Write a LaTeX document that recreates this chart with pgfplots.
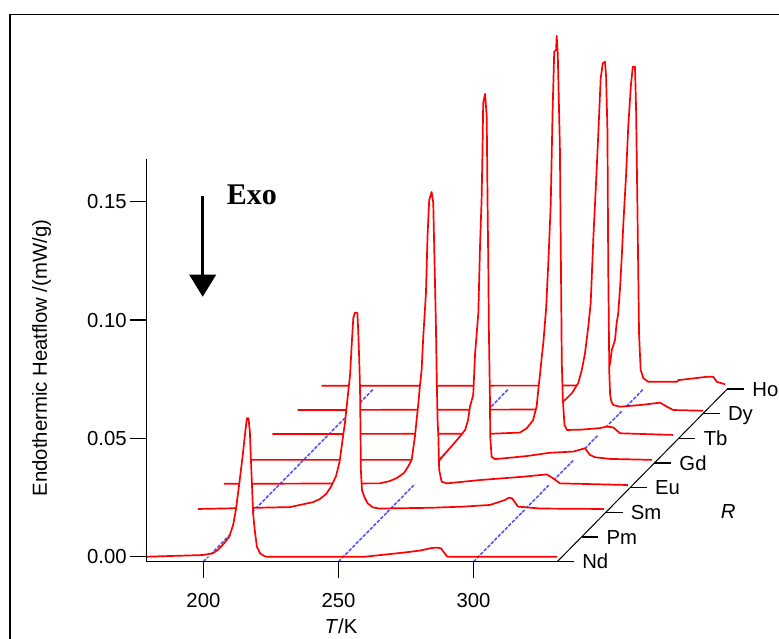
\documentclass[border=0pt]{standalone}
\usepackage{pgfplots}
\pgfplotsset{compat=1.18}
\usepackage{pgfplotstable}
\usepackage{fontspec}
\setmainfont{Liberation Sans}
\newfontfamily\exofont{Liberation Serif}
\definecolor{gridblue}{RGB}{85,85,250}

% own coordinates of each curve: T / K, heat flow / (mW/g)
\pgfplotstableread{
T v
179.0 0
199.7 0.0007
203.4 0.0014
205.3 0.0028
207.7 0.0057
209.6 0.0085
211.0 0.0134
212.0 0.0197
213.3 0.0310
214.5 0.0423
215.5 0.0528
216.1 0.0585
216.7 0.0585
217.2 0.0528
217.6 0.0409
218.0 0.0296
218.4 0.0183
219.0 0.0113
219.8 0.0042
221.0 0.0014
222.5 0.0003
223.5 0
259.8 0
267.2 0.0009
274.6 0.0018
280.2 0.0026
284.6 0.0037
286.9 0.0038
288.0 0.0035
290.2 0.0001
291.0 0
331.0 0
}\Nd

\pgfplotstableread{
T v
180.0 -0.0007
214.0 0.0001
217.7 0.0010
222.6 0.0022
225.1 0.0035
227.4 0.0056
229.2 0.0086
231.1 0.0132
232.4 0.0191
233.5 0.0284
234.4 0.0356
235.3 0.0453
236.3 0.0559
236.9 0.0686
237.5 0.0800
238.1 0.0822
239.0 0.0822
239.3 0.0750
239.7 0.0623
240.0 0.0496
240.2 0.0284
240.3 0.0158
240.7 0.0073
241.6 0.0044
242.8 0.0017
244.7 0.0000
247.0 -0.0005
265.9 -0.0002
278.1 0.0003
288.1 0.0010
293.7 0.0031
295.1 0.0041
296.3 0.0038
298.5 0.0003
306.6 -0.0005
330.3 -0.0007
}\Sm

\pgfplotstableread{
T v
180.6 -0.0005
238.4 -0.0003
242.1 0.0007
244.7 0.0020
247.3 0.0041
248.7 0.0066
250.1 0.0096
251.3 0.0193
252.6 0.0337
253.2 0.0413
253.8 0.0476
254.4 0.0616
255.4 0.0801
256.0 0.1047
256.6 0.1194
257.5 0.1228
258.1 0.1182
258.7 0.0869
259.1 0.0658
259.4 0.0434
259.7 0.0265
260.0 0.0193
260.3 0.0054
261.2 0.0004
263.1 -0.0003
275.4 0.0011
291.3 0.0025
300.1 0.0035
302.4 0.0019
305.0 -0.0003
330.2 -0.0010
}\Eu

\pgfplotstableread{
T v
179.7 -0.0008
251.6 -0.0008
252.3 0.0003
255.3 0.0042
258.4 0.0083
260.9 0.0118
262.0 0.0161
262.7 0.0217
263.9 0.0266
264.6 0.0442
265.8 0.0613
266.4 0.0886
267.0 0.1090
267.3 0.1273
267.6 0.1500
268.3 0.1538
268.9 0.1442
269.2 0.1090
269.5 0.0803
269.7 0.0541
270.1 0.0245
270.2 0.0090
270.7 0.0005
272.0 -0.0005
283.7 0.0008
292.3 0.0022
301.0 0.0027
305.3 0.0041
307.1 0.0013
309.0 0.0003
314.6 -0.0004
330.1 -0.0008
}\Gd

\pgfplotstableread{
T v
180.5 -0.0003
261.7 -0.0002
272.2 0.0003
274.7 0.0021
277.1 0.0056
278.4 0.0115
279.0 0.0183
279.6 0.0246
280.3 0.0324
280.9 0.0387
281.9 0.0528
282.7 0.0718
283.6 0.0965
284.3 0.1366
284.9 0.1612
285.6 0.1620
285.8 0.1679
286.2 0.1606
287.0 0.1204
287.7 0.0296
288.1 0.0141
288.7 0.0035
289.6 0.0014
294.4 0.0015
301.9 0.0022
304.3 0.0028
306.7 0.0025
309.3 0.0000
328.9 -0.0007
}\Tb

\pgfplotstableread{
T v
180.9 -0.0006
270.6 -0.0004
275.1 0.0005
278.0 0.0019
280.3 0.0041
282.5 0.0066
284.8 0.0108
286.1 0.0163
287.3 0.0234
288.5 0.0346
289.4 0.0445
290.4 0.0726
291.4 0.0959
292.2 0.1156
293.1 0.1396
293.9 0.1459
294.7 0.1466
295.1 0.1403
295.6 0.1177
295.9 0.0593
296.3 0.0149
296.6 0.0057
297.1 0.0028
297.8 0.0015
300.3 0.0008
307.7 0.0015
315.1 0.0025
317.6 0.0008
320.0 -0.0006
331.0 -0.0009
}\Dy

\pgfplotstableread{
T v
180.8 -0.0008
280.1 -0.0007
283.9 0.0004
286.1 0.0029
287.6 0.0088
288.2 0.0143
289.4 0.0185
290.0 0.0256
290.6 0.0298
291.3 0.0411
291.9 0.0537
292.5 0.0679
293.5 0.0883
294.3 0.1087
295.3 0.1263
296.0 0.1340
296.8 0.1340
297.2 0.1165
297.7 0.0749
298.3 0.0214
298.9 0.0059
299.9 0.0024
301.7 0.0009
312.3 0.0009
312.9 0.0016
323.4 0.0030
325.8 0.0030
327.1 0.0009
330.2 -0.0002
}\Ho

\begin{document}
\begin{tikzpicture}
\path[use as bounding box] (0,0) rectangle (779bp,639bp);
\draw[line width=1.2bp] (10bp,0) -- (10bp,624.7bp) -- (779bp,624.7bp);
\begin{axis}[
  at={(146.7bp,77.3bp)}, anchor=south west,
  scale only axis, width=410.5bp, height=402.7bp,
  xmin=179, xmax=331, ymin=-0.00211, ymax=0.16804,
  clip=false, axis on top,
  axis lines=left, axis line style={-, line width=1.5bp},
  every tick/.style={black, line width=1.5bp},
  tick align=outside, major tick length=16.5bp,
  xtick={200,250,300}, ytick={0,0.05,0.1,0.15},
  /pgf/number format/assume math mode=true,
  yticklabel style={/pgf/number format/.cd, fixed, fixed zerofill, precision=2},
  xticklabel style={yshift=-12bp, /pgf/number format/.cd, fixed, precision=0},
  tick label style={font=\fontsize{20.3bp}{24bp}\selectfont},
  label style={font=\fontsize{20.3bp}{24bp}\selectfont},
  xlabel={\textit{T}/K},
  xlabel style={at={(axis description cs:0.4733,-0.1778)}, anchor=base},
  ylabel={Endothermic Heatflow /(mW/g)},
  ylabel style={at={(axis description cs:-0.2558,0.5058)}, anchor=center},
  wall/.style={fill=white, draw=none, forget plot},
  curve/.style={red, line width=1.7bp, line join=round},
  bline/.style={gridblue, line width=1.6bp, dash pattern=on 3.5bp off 1.5bp, unbounded coords=jump},
]
% Ho (depth 7)
\addplot[wall] table[x expr=\thisrow{T}+63, y expr=\thisrow{v}+0.07301] {\Ho};
\addplot[curve] table[x expr=\thisrow{T}+63, y expr=\thisrow{v}+0.07301] {\Ho};
\addplot[bline] coordinates {(254,0.06047) (263,0.07090) (nan,nan) (304,0.06047) (313,0.07090) (nan,nan) (354,0.06047) (363,0.07090)};
% Dy (depth 6)
\addplot[wall] table[x expr=\thisrow{T}+54, y expr=\thisrow{v}+0.06258] {\Dy};
\addplot[curve] table[x expr=\thisrow{T}+54, y expr=\thisrow{v}+0.06258] {\Dy};
\addplot[bline] coordinates {(245,0.05004) (254,0.06047) (nan,nan) (295,0.05004) (304,0.06047) (nan,nan) (345,0.05004) (354,0.06047)};
% Tb (depth 5)
\addplot[wall] table[x expr=\thisrow{T}+45, y expr=\thisrow{v}+0.05215] {\Tb};
\addplot[curve] table[x expr=\thisrow{T}+45, y expr=\thisrow{v}+0.05215] {\Tb};
\addplot[bline] coordinates {(236,0.03961) (245,0.05004) (nan,nan) (286,0.03961) (295,0.05004) (nan,nan) (336,0.03961) (345,0.05004)};
% Gd (depth 4)
\addplot[wall] table[x expr=\thisrow{T}+36, y expr=\thisrow{v}+0.04172] {\Gd};
\addplot[curve] table[x expr=\thisrow{T}+36, y expr=\thisrow{v}+0.04172] {\Gd};
\addplot[bline] coordinates {(227,0.02918) (236,0.03961) (nan,nan) (277,0.02918) (286,0.03961) (nan,nan) (327,0.02918) (336,0.03961)};
% Eu (depth 3)
\addplot[wall] table[x expr=\thisrow{T}+27, y expr=\thisrow{v}+0.03129] {\Eu};
\addplot[curve] table[x expr=\thisrow{T}+27, y expr=\thisrow{v}+0.03129] {\Eu};
\addplot[bline] coordinates {(218,0.01875) (227,0.02918) (nan,nan) (268,0.01875) (277,0.02918) (nan,nan) (318,0.01875) (327,0.02918)};
% Sm (depth 2)
\addplot[wall] table[x expr=\thisrow{T}+18, y expr=\thisrow{v}+0.02086] {\Sm};
\addplot[curve] table[x expr=\thisrow{T}+18, y expr=\thisrow{v}+0.02086] {\Sm};
\addplot[bline] coordinates {(200,-0.00211) (218,0.01875) (nan,nan) (250,-0.00211) (268,0.01875) (nan,nan) (300,-0.00211) (318,0.01875)};
% Nd (depth 0)
\addplot[wall] table[x=T, y=v] {\Nd};
\addplot[curve] table[x=T, y=v] {\Nd};

% depth axis R
\addplot[black, line width=1bp] coordinates {(331,-0.00211) (394,0.07090)};
\draw[line width=1.5bp]
  (axis cs:331,-0.00211) -- (axis cs:337.2,-0.00211)
  (axis cs:340,0.00832) -- (axis cs:346.2,0.00832)
  (axis cs:349,0.01875) -- (axis cs:355.2,0.01875)
  (axis cs:358,0.02918) -- (axis cs:364.2,0.02918)
  (axis cs:367,0.03961) -- (axis cs:373.2,0.03961)
  (axis cs:376,0.05004) -- (axis cs:382.2,0.05004)
  (axis cs:385,0.06047) -- (axis cs:391.2,0.06047)
  (axis cs:394,0.07090) -- (axis cs:400.2,0.07090);
\begin{scope}[every node/.style={anchor=base west, yshift=-7.3bp, inner sep=0pt, font=\fontsize{20.3bp}{24bp}\selectfont}]
\node at (axis cs:340.2,-0.00211) {Nd};
\node at (axis cs:349.2,0.00832) {Pm};
\node at (axis cs:358.2,0.01875) {Sm};
\node at (axis cs:367.2,0.02918) {Eu};
\node at (axis cs:376.2,0.03961) {Gd};
\node at (axis cs:385.2,0.05004) {Tb};
\node at (axis cs:394.2,0.06047) {Dy};
\node at (axis cs:403.2,0.07090) {Ho};
\end{scope}
\node[font=\fontsize{20.3bp}{24bp}\selectfont, anchor=center] at (axis cs:394.3,0.0189) {\textit{R}};
\end{axis}
% Exo arrow
\draw[line width=3.3bp] (202.7bp,443bp) -- (202.7bp,362bp);
\fill (189.2bp,364.3bp) -- (216.2bp,364.3bp) -- (202.7bp,342.3bp) -- cycle;
\node[anchor=base west, inner sep=0pt, font=\exofont\bfseries\fontsize{30bp}{34bp}\selectfont] at (226.7bp,434bp) {Exo};
\end{tikzpicture}
\end{document}
